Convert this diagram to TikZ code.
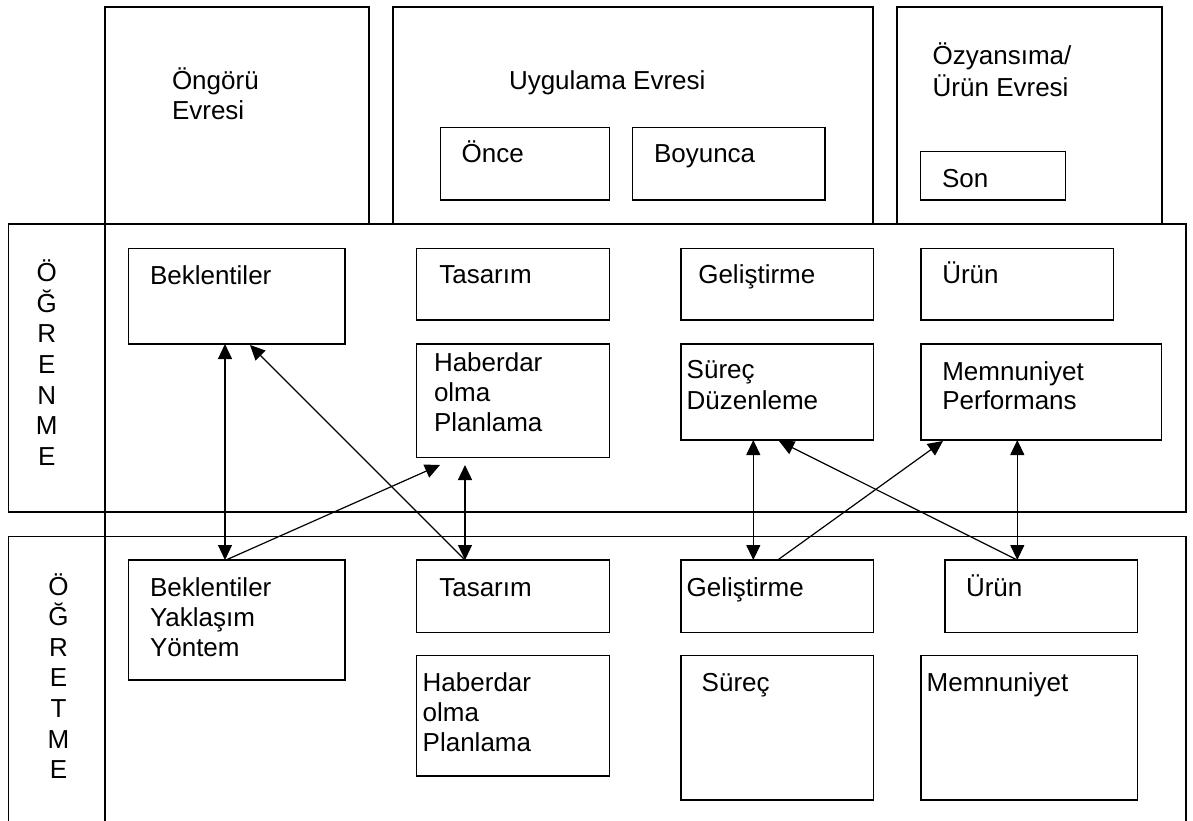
\documentclass[tikz,border=0pt]{standalone}
\usepackage{fontspec}
\setmainfont{Liberation Sans}
\usetikzlibrary{arrows.meta}
\begin{document}
\begin{tikzpicture}[x=1pt,y=-1pt,line width=1.2pt,
  box/.style={draw, rectangle, anchor=north west, inner sep=0pt, outer sep=0pt},
  txt/.style={anchor=base west, inner sep=0pt, outer sep=0pt, align=left, font=\fontsize{26}{30}\selectfont},
  vtxt/.style={anchor=base, inner sep=0pt, outer sep=0pt, align=center, font=\fontsize{26}{30.6}\selectfont},
  tip/.tip={Triangle[length=15pt,width=14pt]},
  arr/.style={-tip},
  biarr/.style={tip-tip}]
\useasboundingbox (0,0) rectangle (1193,821);
\clip (0,0) rectangle (1193,821);
\coordinate (bottom) at (0,821);
% phase boxes
\node[box, minimum width=264pt, minimum height=217pt] (phA) at (105,7) {};
\node[box, minimum width=480pt, minimum height=217pt] (phB) at (393,7) {};
\node[box, minimum width=265pt, minimum height=217pt] (phC) at (897,7) {};
% bands
\node[box, minimum width=1177.5pt, minimum height=288pt] (learn) at (8.5,224) {};
\node[box, minimum width=1177.5pt, minimum height=300pt] (teach) at (8.5,536.5) {};
\draw (phA.north west) -- (phA.north west |- bottom);
% phase inner boxes
\node[box, minimum width=168.6pt, minimum height=72.3pt] (once) at (440.7,127.7) {};
\node[box, minimum width=192.3pt, minimum height=72.3pt] (boyunca) at (632.7,127.7) {};
\node[box, minimum width=144.6pt, minimum height=48.3pt] (son) at (920.7,151.7) {};
% learning boxes
\node[box, minimum width=216.3pt, minimum height=95.7pt] (lBek) at (128.7,248.3) {};
\node[box, minimum width=192.6pt, minimum height=71.7pt] (lTas) at (416.7,248.3) {};
\node[box, minimum width=192.6pt, minimum height=113.3pt] (lHab) at (416.7,344) {};
\node[box, minimum width=192.3pt, minimum height=71.7pt] (lGel) at (681,248.3) {};
\node[box, minimum width=192.3pt, minimum height=96pt] (lSur) at (681,344) {};
\node[box, minimum width=192.3pt, minimum height=71.7pt] (lUrun) at (921,248.3) {};
\node[box, minimum width=240.7pt, minimum height=96pt] (lMem) at (921,344) {};
% teaching boxes
\node[box, minimum width=216.3pt, minimum height=120pt] (tBek) at (128.7,560) {};
\node[box, minimum width=192.6pt, minimum height=72.3pt] (tTas) at (416.7,560) {};
\node[box, minimum width=192.6pt, minimum height=120.3pt] (tHab) at (416.7,655.7) {};
\node[box, minimum width=192.3pt, minimum height=72.3pt] (tGel) at (681,560) {};
\node[box, minimum width=192.3pt, minimum height=144.3pt] (tSur) at (681,655.7) {};
\node[box, minimum width=192.7pt, minimum height=72.3pt] (tUrun) at (945,560) {};
\node[box, minimum width=216.7pt, minimum height=144.3pt] (tMem) at (921,655.7) {};
% texts (base anchor = baseline of the last line)
\node[txt] (xA) at (172,120) {Öngörü\\Evresi};
\node[txt] (xB) at (509,90) {Uygulama Evresi};
\node[txt, font=\fontsize{26}{31.5}\selectfont] (xC) at (932.7,96.5) {Özyansıma/\\Ürün Evresi};
\node[txt] (xOnce) at (461.7,163) {Önce};
\node[txt] (xBoy) at (654,163) {Boyunca};
\node[txt] (xSon) at (942,187.7) {Son};
\node[vtxt] (xLearn) at (46.7,465.3) {Ö\\Ğ\\R\\E\\N\\M\\E};
\node[vtxt] (xTeach) at (58.5,778.6) {Ö\\Ğ\\R\\E\\T\\M\\E};
\node[txt] (xlBek) at (150,284) {Beklentiler};
\node[txt] (xlTas) at (439.3,283.3) {Tasarım};
\node[txt] (xlHab) at (434,431.7) {Haberdar\\olma\\Planlama};
\node[txt] (xlGel) at (698.3,283.3) {Geliştirme};
\node[txt, font=\fontsize{26}{31}\selectfont] (xlSur) at (686.7,409.3) {Süreç\\Düzenleme};
\node[txt] (xlUrun) at (942.3,283.3) {Ürün};
\node[txt, font=\fontsize{26}{29.3}\selectfont] (xlMem) at (942.3,409.3) {Memnuniyet\\Performans};
\node[txt] (xtBek) at (150,656) {Beklentiler\\Yaklaşım\\Yöntem};
\node[txt] (xtTas) at (439.3,596.7) {Tasarım};
\node[txt] (xtHab) at (422.7,751.7) {Haberdar\\olma\\Planlama};
\node[txt] (xtGel) at (686.7,596.7) {Geliştirme};
\node[txt] (xtSur) at (701.7,691.7) {Süreç};
\node[txt] (xtUrun) at (966,596.7) {Ürün};
\node[txt] (xtMem) at (926.7,691.7) {Memnuniyet};
% arrows
\draw[biarr] ([xshift=96.3pt]lBek.south west) -- ([xshift=96.3pt]tBek.north west);
\draw[arr] ([xshift=97.3pt]tBek.north west) -- ([xshift=23.3pt,yshift=-7.7pt]lHab.south west);
\draw[arr] ([xshift=48.3pt]tTas.north west) -- ([xshift=121.3pt,yshift=-1pt]lBek.south west);
\draw[biarr] ([xshift=48.3pt,yshift=-7.7pt]lHab.south west) -- ([xshift=48.3pt]tTas.north west);
\draw[biarr] ([xshift=72.3pt]lSur.south west) -- ([xshift=72.3pt]tGel.north west);
\draw[arr] ([xshift=96.7pt]tGel.north west) -- ([xshift=22pt,yshift=-1pt]lMem.south west);
\draw[arr] ([xshift=72.3pt]tUrun.north west) -- ([xshift=98pt,yshift=-1pt]lSur.south west);
\draw[biarr] ([xshift=96.3pt]lMem.south west) -- ([xshift=72.3pt]tUrun.north west);
\end{tikzpicture}
\end{document}
